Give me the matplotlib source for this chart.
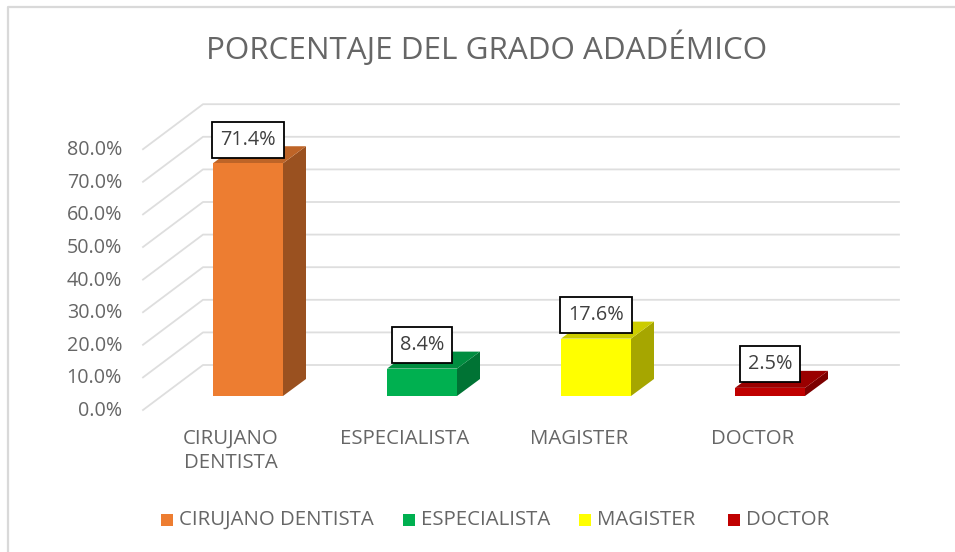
import matplotlib
matplotlib.use("Agg")
import matplotlib.pyplot as plt
from matplotlib.patches import Rectangle
from matplotlib.lines import Line2D

# data
categorias = ["CIRUJANO DENTISTA", "ESPECIALISTA", "MAGISTER", "DOCTOR"]
etiquetas_x = ["CIRUJANO\nDENTISTA", "ESPECIALISTA", "MAGISTER", "DOCTOR"]
porcentajes = [71.4, 8.4, 17.6, 2.5]
ticks_y = [0, 10, 20, 30, 40, 50, 60, 70, 80]
colores = ["#ED7D31", "#00B050", "#FFFF00", "#C00000"]
colores_lado = ["#9A5120", "#007334", "#A6A600", "#7D0000"]
colores_tope = ["#BE6427", "#008D40", "#CCCC00", "#9A0000"]

W, H = 955, 552
plt.rcParams['font.family'] = ['Open Sans', 'DejaVu Sans']
gris = "#666666"

fig = plt.figure(figsize=(W / 100, H / 100), dpi=100)

# plano de las barras en pixeles
x0, x1, y0, y1 = 161, 857, 396, 135.2
ax = fig.add_axes([x0 / W, 1 - y0 / H, (x1 - x0) / W, (y0 - y1) / H])
ax.set_xlim(0, 4)
ax.set_ylim(0, 80)
ax.axis('off')

ux = 4 / (x1 - x0)  # datos por pixel
uy = 80 / (y0 - y1)

# paredes: lineas de cuadricula
for v in ticks_y:
    xs = [-18 * ux, 42 * ux, 4 + 42 * ux]
    ys = [v - 14 * uy, v + 31 * uy, v + 31 * uy]
    ax.plot(xs, ys, color="#DEDEDE", lw=1.3, clip_on=False, zorder=1)
    ax.text(-39 * ux, v - 15 * uy, f"{v:.1f}%", ha='right', va='center',
            fontsize=14.2, color=gris)

# barras 3D
ancho = 70 * ux
prof_x, prof_y = 23 * ux, 17 * uy
pos = [i + 0.5 for i in range(len(categorias))]
ax.bar(pos, porcentajes, width=ancho, color=colores, zorder=3, clip_on=False)
for p, v, cl, ct in zip(pos, porcentajes, colores_lado, colores_tope):
    der = p + ancho / 2
    izq = p - ancho / 2
    ax.fill([der, der + prof_x, der + prof_x, der],
            [0, prof_y, v + prof_y, v], color=cl, lw=0, zorder=2, clip_on=False)
    ax.fill([izq, izq + prof_x, der + prof_x, der],
            [v, v + prof_y, v + prof_y, v], color=ct, lw=0, zorder=2, clip_on=False)
    # etiqueta de dato
    ax.text(p, v + 23.5 * uy, f"{v}%", ha='center', va='center', fontsize=14.3,
            color="#404040", zorder=5, clip_on=False,
            bbox=dict(boxstyle="square,pad=0.4", fc="white", ec="black", lw=1.3))

# etiquetas de categoria
for p, e in zip(pos, etiquetas_x):
    ax.text(p - 17 * ux, -32.5 * uy, e, ha='center', va='top', fontsize=14.7,
            color=gris, linespacing=1.3)

# titulo
fig.text(487 / W, 1 - 48 / H, "PORCENTAJE DEL GRADO ADADÉMICO", ha='center', va='center',
         fontsize=22.6, color=gris)

# leyenda
leg_x = [161, 403, 579, 728]
for c, col, lx in zip(categorias, colores, leg_x):
    fig.add_artist(Rectangle((lx / W, 1 - 526 / H), 12 / W, 12 / H, color=col, lw=0,
                             transform=fig.transFigure))
    fig.text((lx + 18) / W, 1 - 520 / H, c, ha='left', va='center', fontsize=14.7, color=gris)

# borde del grafico (solo arriba e izquierda)
fig.add_artist(Line2D([7.5 / W, 7.5 / W, 1], [0, 1 - 7 / H, 1 - 7 / H], color="#D9D9D9", lw=1.6,
                      transform=fig.transFigure))

fig.savefig("out.png", dpi=100)
